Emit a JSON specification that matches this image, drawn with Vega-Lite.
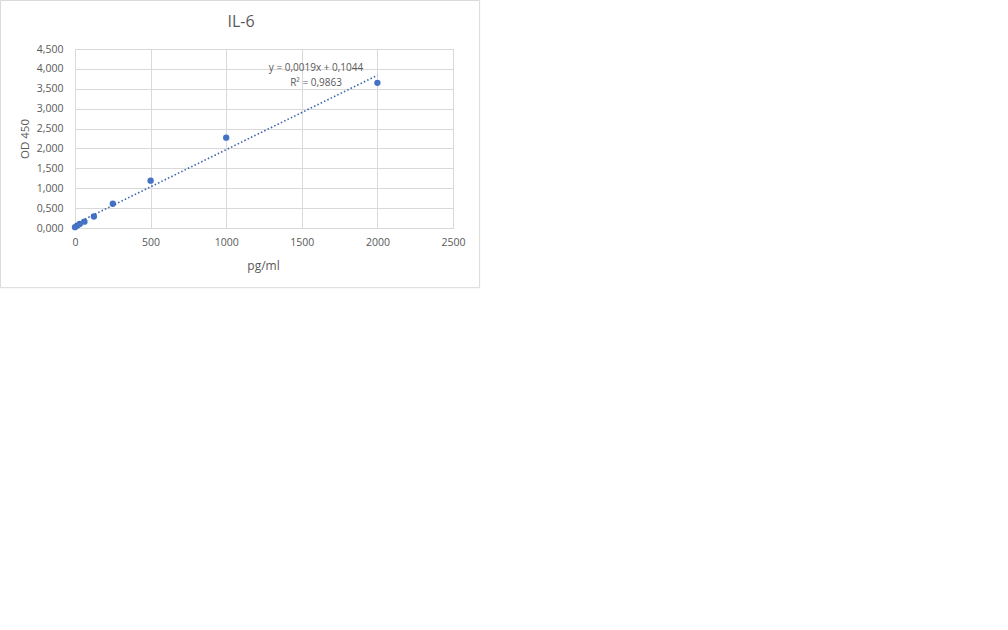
{
  "$schema": "https://vega.github.io/schema/vega-lite/v6.json",
  "autosize": {"type": "none"},
  "width": 378,
  "height": 179,
  "padding": {"left": 75, "top": 49, "right": 555, "bottom": 402},
  "background": "white",
  "title": {"text": "IL-6", "fontSize": 16, "font": "Open Sans", "fontWeight": "normal", "color": "#595959", "anchor": "middle", "dx": -23, "offset": -46, "baseline": "bottom"},
  "layer": [
    {
      "data": {"values": [{"conc": 0, "od": 0.02},
        {"conc": 15.6, "od": 0.06},
        {"conc": 31.25, "od": 0.1},
        {"conc": 62.5, "od": 0.16},
        {"conc": 125, "od": 0.29},
        {"conc": 250, "od": 0.61},
        {"conc": 500, "od": 1.19},
        {"conc": 1000, "od": 2.27},
        {"conc": 2000, "od": 3.65}]},
      "mark": {"type": "circle", "size": 40, "color": "#4472c4", "opacity": 1},
      "encoding": {
        "x": {"field": "conc", "type": "quantitative", "title": "pg/ml",
          "scale": {"domain": [0, 2500], "nice": false}},
        "y": {"field": "od", "type": "quantitative", "title": "OD 450",
          "scale": {"domain": [0, 4.5], "nice": false}}
      }
    },
    {
      "data": {"values": [{"conc": 0, "od": 0.02},
        {"conc": 15.6, "od": 0.06},
        {"conc": 31.25, "od": 0.1},
        {"conc": 62.5, "od": 0.16},
        {"conc": 125, "od": 0.29},
        {"conc": 250, "od": 0.61},
        {"conc": 500, "od": 1.19},
        {"conc": 1000, "od": 2.27},
        {"conc": 2000, "od": 3.65}]},
      "transform": [{"regression": "od", "on": "conc", "method": "linear", "extent": [0, 2000]}],
      "mark": {"type": "line", "color": "#3a64b0", "strokeWidth": 1.6, "strokeDash": [1.5, 2.2]},
      "encoding": {
        "x": {"field": "conc", "type": "quantitative", "title": "pg/ml"},
        "y": {"field": "od", "type": "quantitative", "title": "OD 450"}
      }
    },
    {
      "data": {"values": [{}]},
      "mark": {"type": "rect", "fill": null, "stroke": "#d9d9d9", "strokeWidth": 1, "clip": false},
      "encoding": {
        "x": {"datum": -493, "type": "quantitative", "title": "pg/ml"},
        "x2": {"datum": 2676},
        "y": {"datum": 5.72, "type": "quantitative", "title": "OD 450"},
        "y2": {"datum": -1.5}
      }
    },
    {
      "data": {"values": [{"label": "y = 0,0019x + 0,1044"}]},
      "mark": {"type": "text", "font": "Open Sans", "fontSize": 10, "color": "#595959", "align": "center", "baseline": "middle"},
      "encoding": {
        "x": {"datum": 1594, "type": "quantitative", "title": "pg/ml"},
        "y": {"datum": 4.02, "type": "quantitative", "title": "OD 450"},
        "text": {"field": "label"}
      }
    },
    {
      "data": {"values": [{"label": "R² = 0,9863"}]},
      "mark": {"type": "text", "font": "Open Sans", "fontSize": 10, "color": "#595959", "align": "center", "baseline": "middle"},
      "encoding": {
        "x": {"datum": 1594, "type": "quantitative", "title": "pg/ml"},
        "y": {"datum": 3.65, "type": "quantitative", "title": "OD 450"},
        "text": {"field": "label"}
      }
    }
  ],
  "config": {
    "view": {"stroke": "#d9d9d9"},
    "axis": {"grid": true, "gridColor": "#d9d9d9", "ticks": false, "labelOverlap": false, "labelFlush": false, "labelFont": "Open Sans", "labelFontSize": 10.5, "labelColor": "#595959", "titleFont": "Open Sans", "titleFontWeight": "normal", "titleColor": "#595959"},
    "axisX": {"values": [0, 500, 1000, 1500, 2000, 2500], "tickCount": 5, "format": "d", "domainColor": "#d9d9d9", "labelPadding": 9, "titleFontSize": 12, "titlePadding": 13, "titleX": 188},
    "axisY": {"values": [0, 0.5, 1, 1.5, 2, 2.5, 3, 3.5, 4, 4.5], "tickCount": 9, "labelExpr": "replace(format(datum.value, '.3f'), '.', ',')", "domain": false, "labelPadding": 12, "titleFontSize": 11.5, "titlePadding": 6}
  }
}
